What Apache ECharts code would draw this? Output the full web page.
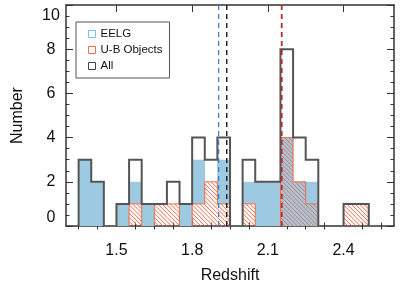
<!DOCTYPE html>
<html><head><meta charset="utf-8">
<script src="https://cdn.jsdelivr.net/npm/echarts@6/dist/echarts.min.js"></script>
<style>html,body{margin:0;padding:0;background:#fff}#c{width:415px;height:297px}</style>
</head><body><div id="c"></div>
<script>
// ---- data ----
const binEdges        = [1.35,1.40,1.45,1.50,1.55,1.60,1.65,1.70,1.75,1.80,1.85,1.90,1.95,2.00,2.05,2.10,2.15,2.20,2.25,2.30,2.35,2.40,2.45,2.50];
const allCounts       = [3,2,0,1,3,1,1,2,1,4,3,4,0,3,2,2,8,4,3,0,0,1,1];
const eelgCounts      = [3,2,0,1,1,1,0,0,1,2,0,2,0,1,2,2,4,2,2,0,0,0,0];
const ubCounts        = [0,0,0,0,1,0,1,1,0,1,2,1,0,1,0,0,4,2,1,0,0,1,1];
const ubNonEelgCounts = [0,0,0,0,1,0,1,1,0,1,2,1,0,1,0,0,0,0,0,0,0,1,1];
const medianNames  = ['EELG median','All median','U-B median'];
const medianValues = [1.905, 1.937, 2.155];
const xTickLabels = [1.5, 1.8, 2.1, 2.4];
const xMinorTicks = [1.35,1.425,1.575,1.65,1.725,1.875,1.95,2.025,2.175,2.25,2.325,2.475,2.55];
const yTickLabels = [0, 2, 4, 6, 8, 10];
const legendNames = ['EELG', 'U-B Objects', 'All'];

// ---- styles ----
const BLUE = '#9ecae1', RED = '#f26b4b', GRAY = '#555555', AXIS = '#333333';
const FONT = 'Liberation Sans, Arial, Helvetica, sans-serif';

// blue EELG blocks sit above the U-B objects that are not EELGs
function blueItems(){
  const out = [];
  eelgCounts.forEach((v,i)=>{ if(v>0) out.push([binEdges[i], binEdges[i+1], ubNonEelgCounts[i], ubNonEelgCounts[i]+v]); });
  return out;
}
function binItems(counts){
  const out = [];
  counts.forEach((v,i)=>{ if(v>0) out.push([binEdges[i], binEdges[i+1], v]); });
  return out;
}
// contiguous runs of non-zero bins -> step outline points (data coords)
function runs(counts){
  const res = []; let cur = null;
  counts.forEach((v,i)=>{
    if(v>0){
      if(!cur){ cur = [[binEdges[i],0]]; }
      cur.push([binEdges[i], v]); cur.push([binEdges[i+1], v]);
    } else if(cur){ cur.push([binEdges[i],0]); res.push(cur); cur=null; }
  });
  if(cur){ cur.push([binEdges[counts.length],0]); res.push(cur); }
  return res;
}
const allRuns = runs(allCounts), ubRuns = runs(ubCounts);

function outlineSeries(name, runList, color, width, z){
  return {
    name, type:'custom', coordinateSystem:'cartesian2d', z,
    data: runList.map((r,i)=>[r[0][0], r[r.length-1][0], i]),
    encode:{x:[0,1]},
    renderItem(params, api){
      const r = runList[api.value(2)];
      const pts = r.map(p=>api.coord(p));
      return {type:'polyline', shape:{points:pts}, style:{stroke:color, lineWidth:width, fill:null}};
    }
  };
}

const chart = echarts.init(document.getElementById('c'), null, {renderer:'canvas'});
const axisCommon = {
  type:'value', min:1.3, max:2.6,
  axisLine:{show:true, onZero:false, lineStyle:{color:AXIS, width:1.5}},
  splitLine:{show:false}
};
const yCommon = {
  type:'value', min:0, max:10, interval:2,
  axisLine:{show:true, onZero:false, lineStyle:{color:AXIS, width:1.5}},
  axisTick:{show:true, inside:true, length:7, lineStyle:{color:AXIS, width:1}},
  minorTick:{show:true, splitNumber:4, length:3.5, lineStyle:{color:AXIS, width:1}},
  splitLine:{show:false}, minorSplitLine:{show:false}
};

const option = {
  animation:false,
  backgroundColor:'#fff',
  grid:{left:66, right:21, top:5, bottom:71, containLabel:false},
  xAxis:[
    Object.assign({}, axisCommon, {position:'bottom',
      name:'Redshift', nameLocation:'middle', nameGap:42,
      nameTextStyle:{fontSize:16, fontFamily:FONT, color:'#111'},
      axisTick:{show:true, inside:true, length:7, customValues:xTickLabels, lineStyle:{color:AXIS}},
      axisLabel:{show:true, customValues:xTickLabels, margin:17, fontSize:16, fontFamily:FONT, color:'#111',
                 formatter:v=>v.toFixed(1)}}),
    Object.assign({}, axisCommon, {position:'bottom', axisLine:{show:false},
      axisTick:{show:true, inside:true, length:3.5, customValues:xMinorTicks, lineStyle:{color:AXIS}},
      axisLabel:{show:false}}),
    Object.assign({}, axisCommon, {position:'top',
      axisTick:{show:true, inside:true, length:7, customValues:xTickLabels, lineStyle:{color:AXIS}},
      axisLabel:{show:false}}),
    Object.assign({}, axisCommon, {position:'top', axisLine:{show:false},
      axisTick:{show:true, inside:true, length:3.5, customValues:xMinorTicks, lineStyle:{color:AXIS}},
      axisLabel:{show:false}})
  ],
  yAxis:[
    Object.assign({}, yCommon, {position:'left',
      name:'Number', nameLocation:'middle', nameGap:40, nameRotate:90,
      nameTextStyle:{fontSize:16, fontFamily:FONT, color:'#111'},
      axisLabel:{show:true, margin:15, align:'center', fontSize:16, fontFamily:FONT, color:'#111',
                 customValues:yTickLabels, padding:[3,0,0,0],
                 verticalAlignMinLabel:'bottom', verticalAlignMaxLabel:'top'}}),
    Object.assign({}, yCommon, {position:'right', axisLabel:{show:false}})
  ],
  legend:{
    show:true, orient:'vertical', left:76, top:22,
    data:[
      {name:legendNames[0], icon:'rect', itemStyle:{color:'#fff', borderColor:'#7fbfe6', borderWidth:1}},
      {name:legendNames[1], icon:'rect', itemStyle:{color:'#fff', borderColor:RED, borderWidth:1}},
      {name:legendNames[2], icon:'rect', itemStyle:{color:'#fff', borderColor:'#444', borderWidth:1}}
    ],
    itemWidth:7, itemHeight:7, itemGap:2, itemTextGap:7,
    padding:[5,7,5,12],
    borderColor:'#555', borderWidth:1, backgroundColor:'#fff',
    textStyle:{fontSize:11.5, fontFamily:FONT, color:'#111', lineHeight:14},
    selectedMode:false
  },
  series:[
    {
      name:legendNames[0], type:'custom', coordinateSystem:'cartesian2d', z:2,
      data: blueItems(), encode:{x:[0,1], y:[2,3]},
      itemStyle:{color:BLUE},
      renderItem(params, api){
        const a = api.coord([api.value(0), api.value(3)]);
        const b = api.coord([api.value(1), api.value(2)]);
        return {type:'rect', shape:{x:a[0]-0.3, y:a[1], width:b[0]-a[0]+0.6, height:b[1]-a[1]},
                style:{fill:BLUE}};
      }
    },
    {
      name:legendNames[1], type:'custom', coordinateSystem:'cartesian2d', z:3,
      data: binItems(ubCounts), encode:{x:[0,1], y:2},
      itemStyle:{color:RED},
      renderItem(params, api){
        const a = api.coord([api.value(0), api.value(2)]);
        const b = api.coord([api.value(1), 0]);
        const L=a[0], R=b[0], T=a[1], B=b[1], s=4.2;
        const children=[];
        const kMin=Math.ceil((T-R)/s), kMax=Math.floor((B-L)/s);
        for(let k=kMin;k<=kMax;k++){
          const c=k*s;
          const xs=Math.max(L, T-c), xe=Math.min(R, B-c);
          if(xe>xs) children.push({type:'line', shape:{x1:xs,y1:xs+c,x2:xe,y2:xe+c},
                                   style:{stroke:RED, lineWidth:1}});
        }
        return {type:'group', children};
      }
    },
    outlineSeries('U-B outline', ubRuns, RED, 1, 4),
    outlineSeries(legendNames[2], allRuns, GRAY, 2, 5),
    ...medianValues.map((m,i)=>({
      name:medianNames[i], type:'line', z:6, symbol:'none', silent:true,
      data:[[m,0],[m,10]],
      lineStyle:{color:['#3f83c6','#222222','#c0272d'][i], width:[1.3,1.5,1.8][i], type:[5,4]}
    }))
  ]
};
chart.setOption(option);
</script>
</body></html>
